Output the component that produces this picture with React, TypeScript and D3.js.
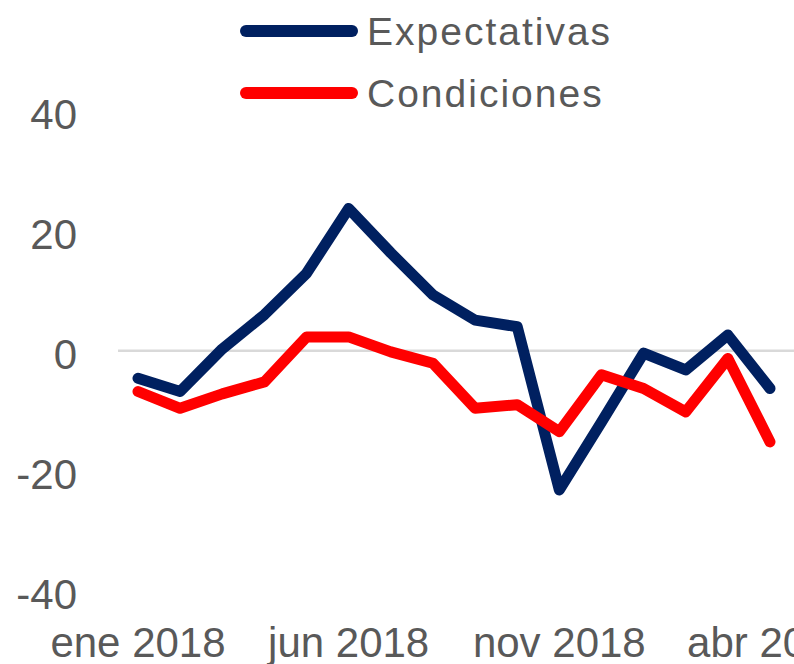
import React from "react";
import * as d3 from "d3";

const months = [
  "ene 2018", "feb 2018", "mar 2018", "abr 2018", "may 2018", "jun 2018",
  "jul 2018", "ago 2018", "sep 2018", "oct 2018", "nov 2018", "dic 2018",
  "ene 2019", "feb 2019", "mar 2019", "abr 2019",
];
const expectativas = [-4.6, -6.8, 0.3, 6.0, 12.9, 23.7, 16.3, 9.3, 5.1, 4.0, -23.2, -11.9, -0.4, -3.2, 2.6, -6.3];
const condiciones = [-6.8, -9.6, -7.2, -5.2, 2.3, 2.3, -0.2, -2.1, -9.6, -9.0, -13.5, -4.0, -6.3, -10.2, -1.3, -15.2];
const yTicks = [40, 20, 0, -20, -40];
const xLabels = ["ene 2018", "jun 2018", "nov 2018", "abr 2019"];

const series = [
  { name: "Expectativas", values: expectativas, color: "#002060" },
  { name: "Condiciones", values: condiciones, color: "#ff0000" },
];

const W = 794;
const H = 664;
const textColor = "#595959";
const font = "'Liberation Sans', Arial, sans-serif";

export default function App() {
  const x = d3.scalePoint<string>().domain(months).range([138, 770]);
  const y = d3.scaleLinear().domain([-40, 40]).range([590.7, 110.7]);

  const line = d3
    .line<number>()
    .x((_, i) => x(months[i]) as number)
    .y((d) => y(d));

  return (
    <svg
      width={W}
      height={H}
      style={{ position: "absolute", left: 0, top: 0, background: "#fff" }}
      fontFamily={font}
    >
      {/* zero line */}
      <line x1={118} x2={W} y1={y(0)} y2={y(0)} stroke="#d9d9d9" strokeWidth={2.5} />

      {/* y tick labels */}
      {yTicks.map((t) => (
        <text key={t} x={77} y={y(t) + 18} textAnchor="end" fontSize={42} fill={textColor}>
          {t}
        </text>
      ))}

      {/* x labels */}
      {xLabels.map((m) => (
        <text key={m} x={x(m)} y={657} textAnchor="middle" fontSize={42} fill={textColor}>
          {m}
        </text>
      ))}

      {/* series lines */}
      {series.map((s) => (
        <path
          key={s.name}
          d={line(s.values) || ""}
          fill="none"
          stroke={s.color}
          strokeWidth={11}
          strokeLinejoin="round"
          strokeLinecap="round"
        />
      ))}

      {/* legend */}
      {series.map((s, i) => {
        const ly = 31 + i * 62;
        return (
          <g key={s.name}>
            <line x1={246} x2={352} y1={ly} y2={ly} stroke={s.color} strokeWidth={12} strokeLinecap="round" />
            <text x={367} y={ly + 14} fontSize={39} letterSpacing={2} fill={textColor}>
              {s.name}
            </text>
          </g>
        );
      })}
    </svg>
  );
}
